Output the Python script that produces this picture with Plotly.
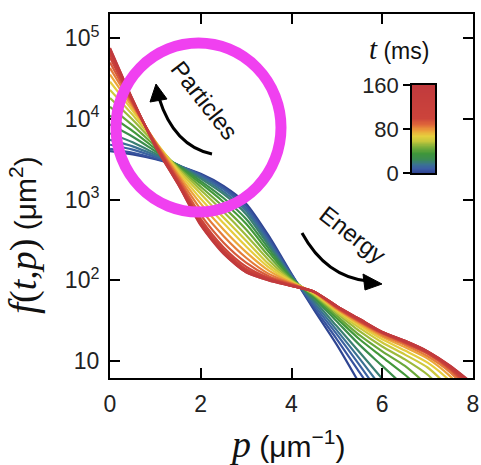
import numpy as np
import plotly.graph_objects as go
from plotly.colors import sample_colorscale

# ---------------- data ----------------
P = [0, 0.5, 1, 1.5, 2, 2.5, 3, 3.5, 4, 4.5, 5, 5.5, 6, 6.5, 7, 7.5, 8]
TIMES_MS = [0, 5, 10, 15, 20, 28, 36, 44, 52, 60, 68, 76, 84, 92, 100, 112, 124, 136, 148, 160]

# log10 f(t,p) at the P grid; each curve stops after it leaves the bottom of the frame
LOG10_F = {
    0:   [3.60, 3.56, 3.50, 3.42, 3.32, 3.17, 2.95, 2.55, 2.08, 1.63, 1.20, 0.72],
    5:   [3.63, 3.58, 3.51, 3.42, 3.31, 3.15, 2.92, 2.52, 2.07, 1.66, 1.27, 0.86, 0.45],
    10:  [3.68, 3.62, 3.53, 3.43, 3.30, 3.13, 2.89, 2.49, 2.06, 1.69, 1.33, 0.95, 0.55],
    15:  [3.74, 3.66, 3.55, 3.43, 3.28, 3.10, 2.86, 2.46, 2.05, 1.72, 1.38, 1.03, 0.66],
    20:  [3.82, 3.71, 3.57, 3.43, 3.26, 3.07, 2.82, 2.43, 2.04, 1.75, 1.43, 1.11, 0.78, 0.45],
    28:  [3.93, 3.78, 3.60, 3.42, 3.23, 3.02, 2.76, 2.39, 2.03, 1.78, 1.49, 1.20, 0.94, 0.68],
    36:  [4.04, 3.85, 3.63, 3.41, 3.20, 2.97, 2.70, 2.35, 2.02, 1.80, 1.53, 1.27, 1.05, 0.83, 0.58],
    44:  [4.15, 3.92, 3.66, 3.40, 3.16, 2.91, 2.63, 2.30, 2.01, 1.81, 1.56, 1.32, 1.12, 0.94, 0.70],
    52:  [4.26, 3.99, 3.69, 3.39, 3.12, 2.85, 2.56, 2.25, 2.00, 1.82, 1.59, 1.37, 1.18, 1.02, 0.83, 0.55],
    60:  [4.36, 4.05, 3.71, 3.37, 3.07, 2.78, 2.49, 2.20, 1.99, 1.83, 1.61, 1.41, 1.23, 1.08, 0.92, 0.66],
    68:  [4.46, 4.10, 3.72, 3.35, 3.01, 2.71, 2.42, 2.16, 1.98, 1.84, 1.63, 1.44, 1.27, 1.13, 0.98, 0.75, 0.45],
    76:  [4.55, 4.14, 3.72, 3.32, 2.95, 2.63, 2.35, 2.12, 1.97, 1.85, 1.64, 1.46, 1.30, 1.17, 1.03, 0.81, 0.50],
    84:  [4.63, 4.17, 3.71, 3.29, 2.88, 2.55, 2.28, 2.08, 1.96, 1.85, 1.65, 1.48, 1.32, 1.20, 1.06, 0.86, 0.55],
    92:  [4.70, 4.19, 3.70, 3.26, 2.81, 2.47, 2.22, 2.05, 1.95, 1.86, 1.66, 1.49, 1.34, 1.22, 1.09, 0.89, 0.60],
    100: [4.76, 4.21, 3.69, 3.23, 2.76, 2.41, 2.17, 2.03, 1.94, 1.86, 1.67, 1.50, 1.35, 1.23, 1.10, 0.91, 0.64],
    112: [4.80, 4.22, 3.68, 3.22, 2.73, 2.38, 2.14, 2.02, 1.94, 1.86, 1.67, 1.51, 1.35, 1.24, 1.11, 0.92, 0.67],
    124: [4.83, 4.23, 3.67, 3.21, 2.71, 2.36, 2.12, 2.01, 1.93, 1.86, 1.68, 1.51, 1.36, 1.24, 1.11, 0.93, 0.69],
    136: [4.85, 4.23, 3.67, 3.20, 2.70, 2.35, 2.11, 2.01, 1.93, 1.86, 1.68, 1.52, 1.36, 1.25, 1.12, 0.93, 0.70],
    148: [4.87, 4.24, 3.66, 3.19, 2.69, 2.34, 2.10, 2.00, 1.93, 1.86, 1.68, 1.52, 1.36, 1.25, 1.12, 0.94, 0.71],
    160: [4.88, 4.24, 3.66, 3.19, 2.68, 2.33, 2.10, 2.00, 1.93, 1.86, 1.68, 1.52, 1.36, 1.25, 1.12, 0.94, 0.72],
}

Y_TICKS = [10, 100, 1000, 10000, 100000]
Y_TICK_TEXT = ["10", "10<sup>2</sup>", "10<sup>3</sup>", "10<sup>4</sup>", "10<sup>5</sup>"]
X_TICKS = [0, 2, 4, 6, 8]
T_MIN, T_MAX = 0, 160
CBAR_TICKS = [0, 80, 160]

# ---------------- style ----------------
COLORSCALE = [
    [0.00, "#2f4592"], [0.05, "#3b5ca6"], [0.10, "#3a7490"], [0.15, "#3a8a55"],
    [0.22, "#3f963a"], [0.30, "#7fb03a"], [0.36, "#c6c73c"], [0.42, "#e6d03e"],
    [0.48, "#eca23a"], [0.55, "#df673a"], [0.62, "#cc443b"], [1.00, "#c13a3d"],
]
SANS = "Liberation Sans, Arial, Helvetica, sans-serif"
W, H = 481, 465
L, R, T, B = 110, 8, 14, 87
PW, PH = W - L - R, H - T - B


def px(x):
    return (x - L) / PW


def py(y):
    return (H - B - y) / PH


fig = go.Figure()

for t in TIMES_MS:
    vals = LOG10_F[t]
    f = [10 ** v for v in vals]
    col = sample_colorscale(COLORSCALE, [(t - T_MIN) / (T_MAX - T_MIN)])[0]
    fig.add_trace(go.Scatter(
        x=P[:len(f)], y=f, mode="lines",
        line=dict(color=col, width=2.2, shape="spline", smoothing=0.7),
        showlegend=False, hoverinfo="skip",
    ))

# colour bar drawn as a heatmap on its own small axes
n = 160
cb_vals = np.linspace(T_MIN, T_MAX, n + 1)
cb_centers = (cb_vals[:-1] + cb_vals[1:]) / 2
fig.add_trace(go.Heatmap(
    z=[[v] for v in cb_centers], x=[0], y=cb_centers,
    colorscale=COLORSCALE, zmin=T_MIN, zmax=T_MAX, showscale=False,
    xaxis="x2", yaxis="y2", hoverinfo="skip",
))

axis_common = dict(
    showline=True, linewidth=2, linecolor="black", mirror="ticks",
    ticks="inside", ticklen=10, tickwidth=2, tickcolor="black",
    showgrid=False, zeroline=False, automargin=False,
    tickfont=dict(family=SANS, size=23, color="#222"),
)

fig.update_layout(
    width=W, height=H,
    margin=dict(l=L, r=R, t=T, b=B, autoexpand=False),
    paper_bgcolor="white", plot_bgcolor="white",
    xaxis=dict(range=[0, 8], tickvals=X_TICKS, domain=[0, 1], ticklabelstandoff=4, **axis_common),
    yaxis=dict(type="log", range=[0.79, 5.30], tickvals=Y_TICKS, ticktext=Y_TICK_TEXT,
               domain=[0, 1], ticklabelstandoff=4, **axis_common),
    xaxis2=dict(domain=[px(412), px(435)], anchor="y2", range=[-0.5, 0.5],
                showticklabels=False, ticks="", showline=True, linewidth=1.5,
                linecolor="black", mirror=True, showgrid=False, zeroline=False,
                automargin=False),
    yaxis2=dict(domain=[py(173), py(85)], anchor="x2", range=[T_MIN, T_MAX],
                tickvals=CBAR_TICKS, ticks="outside", ticklen=7, tickwidth=1.5,
                tickcolor="black", showline=True, linewidth=1.5, linecolor="black",
                mirror=True, showgrid=False, zeroline=False, automargin=False,
                tickfont=dict(family=SANS, size=22, color="#222")),
)

# magenta circle
shapes = [dict(type="circle", xref="paper", yref="paper",
               x0=px(116), x1=px(281), y0=py(212), y1=py(43),
               line=dict(color="#f040f0", width=11), layer="above")]


def qpath(p0, c, p2):
    return "M {} {} Q {} {} {} {}".format(px(p0[0]), py(p0[1]), px(c[0]), py(c[1]), px(p2[0]), py(p2[1]))


def tri(a, b, c):
    return "M {} {} L {} {} L {} {} Z".format(px(a[0]), py(a[1]), px(b[0]), py(b[1]), px(c[0]), py(c[1]))


# Particles arrow
shapes.append(dict(type="path", xref="paper", yref="paper",
                   path=qpath((212, 154), (174, 146), (159, 98)),
                   line=dict(color="black", width=3), layer="above"))
shapes.append(dict(type="path", xref="paper", yref="paper",
                   path=tri((156, 84), (150, 102), (167, 99)),
                   line=dict(color="black", width=1), fillcolor="black", layer="above"))
# Energy arrow
shapes.append(dict(type="path", xref="paper", yref="paper",
                   path=qpath((302, 233), (326, 277), (368, 281)),
                   line=dict(color="black", width=3), layer="above"))
shapes.append(dict(type="path", xref="paper", yref="paper",
                   path=tri((382, 284), (363, 274), (365, 290)),
                   line=dict(color="black", width=1), fillcolor="black", layer="above"))

fig.update_layout(shapes=shapes)

C = dict(xref="paper", yref="paper", showarrow=False, xanchor="center", yanchor="middle")
ann = []
ann.append(dict(text="Particles", x=px(205), y=py(100), textangle=52,
                font=dict(family=SANS, size=24, color="#111"), **C))
ann.append(dict(text="Energy", x=px(353), y=py(234), textangle=38,
                font=dict(family=SANS, size=24, color="#111"), **C))
ann.append(dict(
    text="<span style=\"font-family:'Liberation Serif';font-style:italic;font-size:38px\">p</span> (μm<sup>−1</sup>)",
    x=px(287), y=py(444), font=dict(family=SANS, size=30, color="#111"), **C))
ann.append(dict(
    text="<span style=\"font-family:'Liberation Serif';font-style:italic;font-size:40px\">f</span>"
         "<span style=\"font-family:'Liberation Serif';font-size:38px\">(</span>"
         "<span style=\"font-family:'Liberation Serif';font-style:italic;font-size:38px\">t,p</span>"
         "<span style=\"font-family:'Liberation Serif';font-size:38px\">)</span> (μm<sup>2</sup>)",
    x=px(22), y=py(235), textangle=-90, font=dict(family=SANS, size=30, color="#111"), **C))
ann.append(dict(
    text="<span style=\"font-family:'Liberation Serif';font-style:italic;font-size:29px\">t</span> (ms)",
    x=px(399), y=py(49), font=dict(family=SANS, size=23, color="#111"), **C))
fig.update_layout(annotations=ann)

fig.write_html("out.html", config={"displayModeBar": False},
               post_script="document.body.style.margin='0px';")
